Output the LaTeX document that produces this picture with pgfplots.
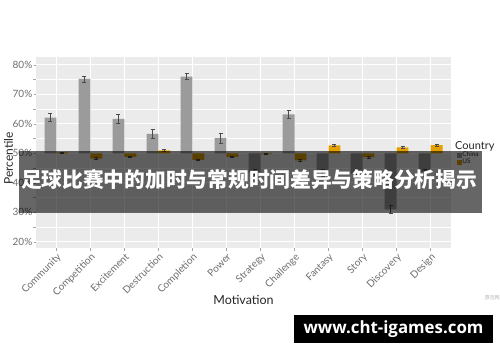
\documentclass[border=0pt]{standalone}
\usepackage{pgfplots}
\pgfplotsset{compat=1.18}
\usepackage{pgfplotstable}
\usepackage{graphicx}
\usepackage{fontspec}
\setmainfont{Lato}
\newfontfamily\cjk{Noto Sans CJK SC}
\newfontfamily\wm{Open Sans}
\definecolor{chinagray}{HTML}{9B9B9B}
\definecolor{usgold}{HTML}{E3A000}
\definecolor{panelbg}{HTML}{EBEBEB}
\definecolor{ticktext}{HTML}{6E6E6E}
\definecolor{errgray}{HTML}{4A4A4A}
\pgfplotstableread{
idx cat China Cerr US Uerr
0 Community 62.1 1.3 50.3 0.2
1 Competition 75.2 1.0 48.2 0.3
2 Excitement 61.7 1.6 48.8 0.3
3 Destruction 56.6 1.5 51.0 0.3
4 Completion 76.0 1.0 47.8 0.3
5 Power 55.1 1.7 48.8 0.3
6 Strategy 43.5 1.2 49.7 0.2
7 Challenge 63.2 1.5 47.6 0.4
8 Fantasy 43.5 1.2 52.7 0.3
9 Story 43.0 1.2 48.6 0.3
10 Discovery 31.0 1.5 52.0 0.3
11 Design 43.5 1.2 52.8 0.3
}\data
\pgfplotsset{
  errbar/.style={forget plot, draw=none, mark=none,
    error bars/.cd, y dir=both, y explicit,
    error bar style={draw=errgray, line width=0.6pt},
    error mark options={mark size=2pt, draw=errgray, line width=0.6pt, rotate=90}}
}
\begin{document}
\begin{tikzpicture}[x=1pt,y=1pt]
\useasboundingbox (0,0) rectangle (500,362);
\fill[white] (0,0) rectangle (500,362);
\begin{axis}[
  at={(36pt,113.7pt)}, anchor=south west, scale only axis,
  width=415pt, height=191.5pt,
  xmin=-0.6, xmax=11.6, ymin=-32.2, ymax=32.7,
  axis background/.style={fill=panelbg},
  axis line style={draw=none},
  xtick={0,...,11}, xticklabels from table={\data}{cat},
  ytick={-30,-20,-10,0,10,20,30},
  yticklabels={20\%,30\%,40\%,50\%,60\%,70\%,80\%},
  minor ytick={-25,-15,-5,5,15,25},
  xmajorgrids, ymajorgrids, yminorgrids,
  major grid style={white, line width=0.8pt},
  minor grid style={white, line width=0.4pt},
  tick pos=left, tick align=outside, major tick length=2.5pt,
  tick style={color=gray!70, line width=0.5pt},
  xticklabel style={rotate=45, anchor=north east, inner sep=1pt, text=ticktext, font=\fontsize{10}{10}\selectfont},
  yticklabel style={inner sep=1pt, text=ticktext, font=\fontsize{10}{10}\selectfont},
  xlabel={Motivation}, ylabel={Percentile},
  xlabel style={at={(axis description cs:0.5,-0.272)}, anchor=center, font=\fontsize{12.5}{12.5}\selectfont, text=black!85},
  ylabel style={at={(axis description cs:-0.066,0.47)}, anchor=center, font=\fontsize{12}{12}\selectfont, text=black!85},
  legend style={at={(axis description cs:1.0137,0.505)}, anchor=north west, draw=none, fill=none,
    font=\fontsize{6.5}{6.5}\selectfont, inner sep=0pt, outer sep=0pt, row sep=-0.6pt,
    nodes={inner sep=0.6pt, text=black!80}},
  legend cell align=left,
]
\addplot[ybar, bar width=0.35, bar shift=-0.175, fill=chinagray, draw=none,
  legend image code/.code={\fill[chinagray] (0pt,-2.6pt) rectangle (5pt,2.6pt);}]
  table[x=idx, y expr=\thisrow{China}-50] {\data};
\addlegendentry{China}
\addplot[ybar, bar width=0.35, bar shift=0.175, fill=usgold, draw=none,
  legend image code/.code={\fill[usgold] (0pt,-2.6pt) rectangle (5pt,2.6pt);}]
  table[x=idx, y expr=\thisrow{US}-50] {\data};
\addlegendentry{US}
\addplot[errbar] table[x expr=\thisrow{idx}-0.175, y expr=\thisrow{China}-50, y error=Cerr] {\data};
\addplot[errbar] table[x expr=\thisrow{idx}+0.175, y expr=\thisrow{US}-50, y error=Uerr] {\data};
\end{axis}
\node[anchor=base west, font=\fontsize{11}{11}\selectfont, text=black!85, inner sep=0pt] at (455,213) {Country};
\fill[black, opacity=0.6] (19,149) rectangle (482,211);
\node[text=white, font=\cjk\bfseries\fontsize{21.5}{22}\selectfont, inner sep=0pt] at (249,183) {\resizebox{456pt}{!}{足球比赛中的加时与常规时间差异与策略分析揭示}};
\node[text=black!30, font=\cjk\fontsize{5}{5}\selectfont, inner sep=0pt] at (492,64) {游迅网};
\fill[black] (294,19) rectangle (493,47);
\node[text=white, font=\wm\bfseries\fontsize{16}{16}\selectfont, inner sep=0pt] at (393.5,33) {\resizebox{180pt}{!}{www.cht-igames.com}};
\end{tikzpicture}
\end{document}
